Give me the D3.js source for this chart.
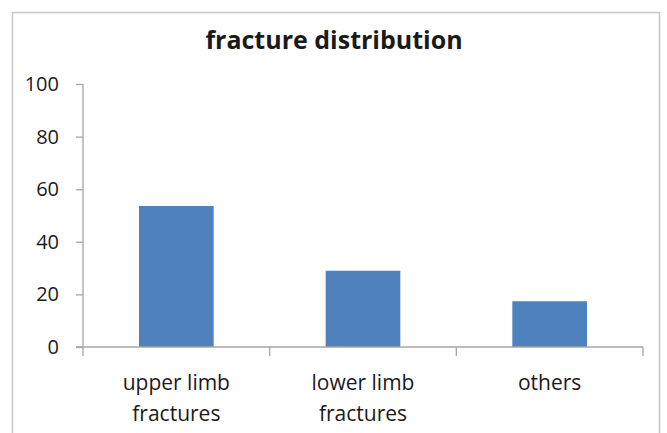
<!DOCTYPE html>
<html>
<head>
<meta charset="utf-8">
<script src="https://cdn.jsdelivr.net/npm/d3@7"></script>
<style>
    body { margin: 0; background: #fff; }
    text { font-family: "Open Sans", Lato, sans-serif; fill: #1a1a1a; }
    .chart-title { font-weight: bold; font-size: 25px; text-anchor: middle; }
    .axis path, .axis line { stroke: #a6a6a6; stroke-width: 1.3; }
    .axis text { font-size: 20px; fill: #1a1a1a; }
    .axis .xlabel { font-size: 21px; }
    .bar { fill: #4f81bd; }
</style>
</head>
<body>
<div id="chart"></div>
<script>
// chart values
const categories = ['upper limb fractures', 'lower limb fractures', 'others'];
const categoryLines = [['upper limb', 'fractures'], ['lower limb', 'fractures'], ['others']];
const values = [53.6, 29.0, 17.4];
const yTicks = [0, 20, 40, 60, 80, 100];
const title = 'fracture distribution';

let margin = {top: 84, left: 83, right: 24, bottom: 86},
    width = 667,
    height = 433;

let svg = d3.select('#chart')
    .append('svg')
    .attr('width', width)
    .attr('height', height);

// outer frame (bottom edge falls outside the picture)
svg.append('rect')
    .attr('x', 12.5)
    .attr('y', 12.5)
    .attr('width', 647)
    .attr('height', 440)
    .attr('fill', 'none')
    .attr('stroke', '#c4c4c4')
    .attr('stroke-width', 1.5);

// x scale for categories (ticks on category borders)
let xScale = d3.scaleBand()
    .domain(categories)
    .range([margin.left, width - margin.right])
    .paddingInner(0.6)
    .paddingOuter(0.3);

// y scale
let yScale = d3.scaleLinear()
    .domain([0, 100])
    .range([height - margin.bottom, margin.top]);

// title
svg.append('text')
    .classed('chart-title', true)
    .attr('x', 334)
    .attr('y', 49)
    .text(title);

// bars
svg.selectAll('.bar')
    .data(values)
    .enter()
    .append('rect')
    .classed('bar', true)
    .attr('x', (d, i) => xScale(categories[i]))
    .attr('width', xScale.bandwidth())
    .attr('y', d => yScale(d))
    .attr('height', d => yScale(0) - yScale(d));

// y axis
let yAxis = svg.append('g')
    .classed('axis', true)
    .attr('transform', `translate(${margin.left},0)`)
    .call(d3.axisLeft(yScale).tickValues(yTicks).tickSizeInner(7).tickSizeOuter(0).tickPadding(17));
yAxis.select('.domain').attr('d', `M0,${yScale(100)}V${yScale(0) + 9}`);

// x axis: ticks between categories
let step = xScale.step();
let xEdges = d3.range(categories.length + 1).map(i => margin.left + i * step);
let xAxis = svg.append('g').classed('axis', true);
xAxis.append('path')
    .attr('d', `M${margin.left - 7},${yScale(0)}H${xEdges[xEdges.length - 1]}`);
xAxis.selectAll('line')
    .data(xEdges.slice(1))
    .enter()
    .append('line')
    .attr('x1', d => d).attr('x2', d => d)
    .attr('y1', yScale(0)).attr('y2', yScale(0) + 9);

// x labels
let labels = xAxis.selectAll('.xlabel')
    .data(categories)
    .enter()
    .append('text')
    .classed('xlabel', true)
    .attr('text-anchor', 'middle')
    .attr('x', d => xScale(d) + xScale.bandwidth() / 2)
    .attr('y', 390);
labels.selectAll('tspan')
    .data((d, i) => categoryLines[i])
    .enter()
    .append('tspan')
    .attr('x', function () { return d3.select(this.parentNode).attr('x'); })
    .attr('dy', (d, i) => i === 0 ? 0 : 31)
    .text(d => d);
</script>
</body>
</html>
